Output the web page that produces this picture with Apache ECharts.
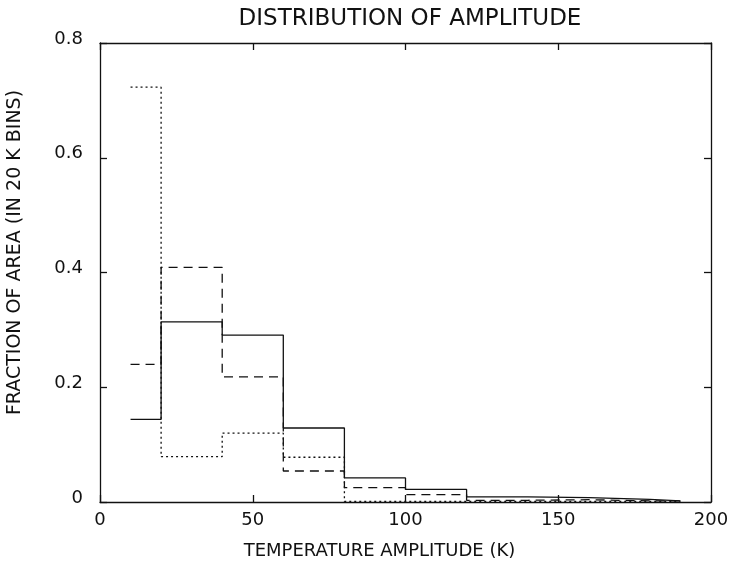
<!DOCTYPE html>
<html>
<head>
<meta charset="utf-8">
<script src="https://cdn.jsdelivr.net/npm/echarts@6/dist/echarts.min.js"></script>
<style>
  html, body { margin: 0; padding: 0; background: #fff; }
  #chart { width: 731px; height: 568px; }
</style>
</head>
<body>
<div id="chart"></div>
<script>
// bin edges (K) shared by the three histograms
const binEdges = [10, 20, 40, 60, 80, 100, 120, 140, 160, 180, 190]
const solidValues = [0.144, 0.314, 0.291, 0.129, 0.042, 0.022, 0.009, 0.0075, 0.0045, 0.002]
const dashedValues = [0.240, 0.409, 0.218, 0.054, 0.025, 0.013, 0.003, 0.004, 0.002, 0.002]
const dottedValues = [0.723, 0.079, 0.120, 0.078, 0.001, 0.001, 0.001, 0.001, 0.001, 0.001]
const xTicks = [0, 50, 100, 150, 200]
const yTicks = [0, 0.2, 0.4, 0.6, 0.8]

const FONT = 'DejaVu Sans'
const INK = '#111'

// step data: horizontal run at each bin's value, last point closes the final bin
function steps (values) {
  const pts = values.map((v, i) => [binEdges[i], v])
  pts.push([binEdges[binEdges.length - 1], values[values.length - 1]])
  return pts
}

function histSeries (name, values, type) {
  return {
    name: name,
    type: 'line',
    step: 'end',
    symbol: 'none',
    data: steps(values),
    lineStyle: { color: INK, width: 1.3, type: type },
    animation: false
  }
}

function frameAxis (extra) {
  return Object.assign({
    type: 'value',
    axisLine: { show: true, onZero: false, lineStyle: { color: INK, width: 1.3 } },
    axisTick: { show: true, inside: true, length: 7, lineStyle: { color: INK, width: 1.3 } },
    axisLabel: { show: false },
    splitLine: { show: false }
  }, extra)
}

const chart = echarts.init(document.getElementById('chart'))
const options = {
  backgroundColor: '#fff',
  title: {
    text: 'DISTRIBUTION OF AMPLITUDE',
    left: 405,
    top: 3,
    textAlign: 'center',
    textStyle: { fontFamily: FONT, fontWeight: 'normal', fontSize: 23, color: INK }
  },
  grid: { left: 100, right: 20, top: 43, bottom: 66, outerBoundsMode: 'none', containLabel: false },
  xAxis: [
    frameAxis({
      position: 'bottom',
      min: 0,
      max: 200,
      interval: 50,
      name: 'TEMPERATURE AMPLITUDE (K)',
      nameLocation: 'middle',
      nameGap: 40,
      nameTextStyle: { fontFamily: FONT, fontSize: 18, color: INK, padding: [0, 52, 0, 0] },
      axisLabel: {
        show: true, fontFamily: FONT, fontSize: 18, color: INK, margin: 9,
        formatter: v => (xTicks.includes(v) ? String(v) : '')
      }
    }),
    frameAxis({ position: 'top', min: 0, max: 200, interval: 50 })
  ],
  yAxis: [
    frameAxis({
      position: 'left',
      min: 0,
      max: 0.8,
      interval: 0.2,
      name: 'FRACTION OF AREA (IN 20 K BINS)',
      nameLocation: 'middle',
      nameGap: 75,
      nameTextStyle: { fontFamily: FONT, fontSize: 19, color: INK, padding: [0, 0, 0, 40] },
      axisLabel: {
        show: true, fontFamily: FONT, fontSize: 18, color: INK, margin: 17,
        verticalAlign: 'bottom', lineHeight: 8,
        formatter: v => {
          const t = yTicks.find(y => Math.abs(y - v) < 1e-9)
          return t === undefined ? '' : (t === 0 ? '0' : t.toFixed(1))
        }
      }
    }),
    frameAxis({ position: 'right', min: 0, max: 0.8, interval: 0.2 })
  ],
  series: [
    histSeries('solid', solidValues, 'solid'),
    histSeries('dashed', dashedValues, [9, 6]),
    histSeries('dotted', dottedValues, [2, 3])
  ]
}
chart.setOption(options)
</script>
</body>
</html>
